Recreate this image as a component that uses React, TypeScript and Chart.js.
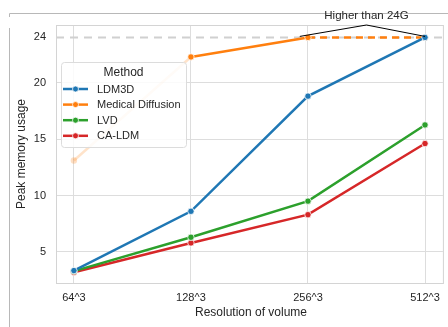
import React, { useEffect, useRef } from "react";
import { Chart, registerables } from "chart.js";

Chart.register(...registerables);

const CATEGORIES = ["64^3", "128^3", "256^3", "512^3"];
const LDM3D = [3.35, 8.6, 18.8, 24];
const MEDICAL = [13.1, 22.27, 24, 24];
const LVD = [3.3, 6.3, 9.5, 16.25];
const CALDM = [3.2, 5.8, 8.3, 14.6];
const Y_TICKS = [5, 10, 15, 20, 24];
const THRESHOLD = 24;
const SERIES_NAMES = ["LDM3D", "Medical Diffusion", "LVD", "CA-LDM"];
const COLORS = ["#1f77b4", "#ff7f0e", "#2ca02c", "#d62728"];

const FONT = "'Liberation Sans', Arial, sans-serif";
const TEXT = "#262626";

const toXY = (arr: number[]) => arr.map((v, i) => ({ x: i, y: v }));

const decorPlugin = {
  id: "decor",
  beforeDatasetsDraw(chart: any) {
    const { ctx, chartArea, scales } = chart;
    const y = scales.y.getPixelForValue(THRESHOLD);
    ctx.save();
    ctx.strokeStyle = "#d0d0d0";
    ctx.lineWidth = 2;
    ctx.setLineDash([8, 6]);
    ctx.beginPath();
    ctx.moveTo(chartArea.left, y);
    ctx.lineTo(chartArea.right, y);
    ctx.stroke();
    ctx.restore();
  },
  afterDraw(chart: any) {
    const { ctx, chartArea, scales } = chart;
    const xs = scales.x;
    const ys = scales.y;
    ctx.save();
    // plot frame
    ctx.strokeStyle = "#d4d4d4";
    ctx.lineWidth = 1;
    ctx.strokeRect(chartArea.left + 0.5, chartArea.top + 0.5, chartArea.right - chartArea.left, chartArea.bottom - chartArea.top);
    // outer figure frame remnants
    ctx.strokeStyle = "#b8b8b8";
    ctx.beginPath();
    ctx.moveTo(9.5, 17);
    ctx.lineTo(9.5, 13.5);
    ctx.lineTo(448, 13.5);
    ctx.moveTo(9.5, 28);
    ctx.lineTo(9.5, 327);
    ctx.stroke();

    // annotation
    const y24 = ys.getPixelForValue(THRESHOLD) - 1;
    ctx.strokeStyle = "#000";
    ctx.lineWidth = 1;
    ctx.beginPath();
    ctx.moveTo(xs.getPixelForValue(1.93), y24);
    ctx.lineTo(xs.getPixelForValue(2.5), chartArea.top);
    ctx.lineTo(xs.getPixelForValue(3), y24);
    ctx.stroke();
    ctx.fillStyle = TEXT;
    ctx.font = `11.5px ${FONT}`;
    ctx.textAlign = "center";
    ctx.textBaseline = "middle";
    ctx.fillText("Higher than 24G", xs.getPixelForValue(2.5), 15.5);

    // axis titles
    ctx.font = `12px ${FONT}`;
    ctx.fillText("Resolution of volume", 251, 313);
    ctx.save();
    ctx.translate(22, (chartArea.top + chartArea.bottom) / 2);
    ctx.rotate(-Math.PI / 2);
    ctx.fillText("Peak memory usage", 0, 0);
    ctx.restore();

    // legend
    const lx = 61, ly = 62, lw = 125, lh = 85;
    ctx.fillStyle = "rgba(255,255,255,0.85)";
    ctx.strokeStyle = "#dcdcdc";
    ctx.beginPath();
    ctx.roundRect(lx + 0.5, ly + 0.5, lw, lh, 3);
    ctx.fill();
    ctx.stroke();
    ctx.fillStyle = TEXT;
    ctx.font = `12px ${FONT}`;
    ctx.textAlign = "center";
    ctx.fillText("Method", lx + lw / 2, 73);
    ctx.font = `11px ${FONT}`;
    ctx.textAlign = "left";
    SERIES_NAMES.forEach((name, i) => {
      const yy = 89 + i * 15.6;
      ctx.strokeStyle = COLORS[i];
      ctx.lineWidth = 2.5;
      ctx.beginPath();
      ctx.moveTo(63, yy);
      ctx.lineTo(88, yy);
      ctx.stroke();
      ctx.fillStyle = COLORS[i];
      ctx.strokeStyle = "#fff";
      ctx.lineWidth = 0.75;
      ctx.beginPath();
      ctx.arc(75.5, yy, 3, 0, Math.PI * 2);
      ctx.fill();
      ctx.stroke();
      ctx.fillStyle = TEXT;
      ctx.fillText(name, 97, yy + 0.5);
    });
    ctx.restore();
  },
};

export default function App() {
  const ref = useRef<HTMLCanvasElement>(null);

  useEffect(() => {
    if (!ref.current) return;
    const base = {
      borderWidth: 2.5,
      pointRadius: 3.2,
      pointBorderColor: "#fff",
      pointBorderWidth: 0.75,
      pointHoverRadius: 3.2,
      tension: 0,
    };
    const chart = new Chart(ref.current, {
      type: "line",
      data: {
        datasets: [
          { ...base, label: SERIES_NAMES[0], data: toXY(LDM3D), borderColor: COLORS[0], backgroundColor: COLORS[0] },
          {
            ...base,
            label: SERIES_NAMES[1],
            data: toXY(MEDICAL),
            borderColor: COLORS[1],
            backgroundColor: MEDICAL.map((_, i) => (i === 0 ? "rgba(255,127,14,0.25)" : COLORS[1])),
            pointBorderColor: MEDICAL.map((_, i) => (i === 0 ? "rgba(255,255,255,0)" : "#fff")),
            segment: {
              borderColor: (c: any) => (c.p0DataIndex === 0 ? "rgba(255,127,14,0.22)" : COLORS[1]),
              borderDash: (c: any) => (c.p0DataIndex === 2 ? [7, 5] : undefined),
            },
          } as any,
          { ...base, label: SERIES_NAMES[2], data: toXY(LVD), borderColor: COLORS[2], backgroundColor: COLORS[2] },
          { ...base, label: SERIES_NAMES[3], data: toXY(CALDM), borderColor: COLORS[3], backgroundColor: COLORS[3] },
        ],
      },
      options: {
        animation: false,
        responsive: true,
        maintainAspectRatio: false,
        layout: { padding: { top: 25, right: 1, left: 0, bottom: 0 } },
        plugins: { legend: { display: false }, tooltip: { enabled: false } },
        scales: {
          x: {
            type: "linear",
            min: -0.153,
            max: 3.153,
            afterBuildTicks: (s: any) => {
              s.ticks = CATEGORIES.map((_, i) => ({ value: i }));
            },
            afterFit: (s: any) => {
              s.height = 44;
            },
            ticks: {
              callback: (v: any) => CATEGORIES[v as number] ?? "",
              font: { family: FONT, size: 11 },
              color: TEXT,
              padding: 8,
              maxRotation: 0,
            },
            grid: { color: "#dddddd", drawTicks: false, lineWidth: 1 },
            border: { display: false },
          },
          y: {
            type: "linear",
            min: 2.25,
            max: 25.1,
            afterBuildTicks: (s: any) => {
              s.ticks = Y_TICKS.map((v) => ({ value: v }));
            },
            afterFit: (s: any) => {
              s.width = 56;
            },
            ticks: {
              font: { family: FONT, size: 11 },
              color: TEXT,
              padding: 10,
            },
            grid: {
              color: (c: any) => (c.tick && c.tick.value === THRESHOLD ? "rgba(0,0,0,0)" : "#dddddd"),
              drawTicks: false,
              lineWidth: 1,
            },
            border: { display: false },
          },
        },
      } as any,
      plugins: [decorPlugin],
    });
    return () => chart.destroy();
  }, []);

  return (
    <div style={{ position: "absolute", left: 0, top: 0, width: 448, height: 327, background: "#fff" }}>
      <canvas ref={ref} />
    </div>
  );
}
